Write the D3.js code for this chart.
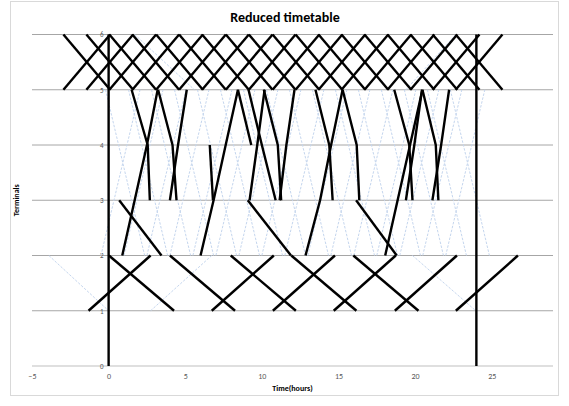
<!DOCTYPE html>
<html><head><meta charset="utf-8">
<script src="https://cdn.jsdelivr.net/npm/d3@7"></script>
<style>body{margin:0;background:#fff;font-family:Calibri,"Liberation Sans",Arial,sans-serif}</style>
</head><body><svg id="c" width="569" height="406"></svg>
<script>
// ---- data ----
const xTicks = [-5, 0, 5, 10, 15, 20, 25];
const yTicks = [0, 1, 2, 3, 4, 5, 6];
const dayBounds = [0, 24];
// Terminals 5 <-> 6 shuttle (black): departure times, same in both directions
const band56Dep = [-2.95, -1.45, 0.05, 1.55, 3.1, 4.6, 6.1, 7.65, 9.15, 10.7, 12.2, 13.7, 15.2, 16.7, 18.2, 19.7, 21.15, 22.65];
const band56Dur = 3.05;
// Terminals 1 <-> 2 (black)
const band12Down = [0.02, 4.0, 7.97, 11.92, 15.97];
const band12DownDur = 4.25;
const band12Up = [-1.31, 6.73, 10.72, 14.69, 18.68, 22.66];
const band12UpDur = 4.05;
// Trains between terminals 2..5 (black): times and terminals
const midTimes = [
  [1.5, 2.55, 2.69], [3.23, 4.17, 4.43], [0.89, 1.7, 2.5, 3.2], [4.0, 4.53, 5.1],
  [0.69, 3.45], [6.0, 6.85, 7.64, 8.44], [6.6, 6.81], [8.44, 9.31],
  [9.13, 10.0, 10.9], [9.2, 9.7, 10.18], [10.13, 11.04, 11.26], [11.16, 11.6, 12.13], [9.08, 11.9],
  [13.5, 14.4, 14.62], [12.85, 13.8, 14.52, 15.27], [15.27, 16.19, 16.36], [16.15, 18.8],
  [18.64, 19.62, 19.83], [18.05, 18.86, 19.67, 20.48], [19.4, 19.95, 20.45],
  [20.48, 21.35, 21.52], [21.13, 21.7, 22.22]
];
const midStops = [
  [5, 4, 3], [5, 4, 3], [2, 3, 4, 5], [3, 4, 5],
  [3, 2], [2, 3, 4, 5], [4, 3], [5, 4],
  [5, 4, 3], [3, 4, 5], [5, 4, 3], [3, 4, 5], [3, 2],
  [5, 4, 3], [2, 3, 4, 5], [5, 4, 3], [3, 2],
  [5, 4, 3], [2, 3, 4, 5], [3, 4, 5],
  [5, 4, 3], [3, 4, 5]
];
// Full timetable (light blue): down trains 5->2 and up trains 2->5, departure times
const fullDown = [-0.2, 1.3, 2.8, 4.3, 5.8, 7.3, 8.8, 10.3, 11.8, 13.3, 14.8, 16.3, 17.8, 19.3, 20.8, 22.3];
const fullUp = [-0.5, 1.0, 2.5, 4.0, 5.5, 7.0, 8.5, 10.0, 11.5, 13.0, 14.5, 16.0, 17.5, 19.0, 20.5, 22.0];
const fullLeg = 0.85;
const fullExtraTimes = [[-3.9, 0.0], [2.74, 6.73], [19.83, 23.96], [1.7, 5.6], [19.4, 22.66]];
const fullExtraStops = [[2, 1], [1, 2], [2, 1], [6, 5], [5, 6]];

// ---- chart ----
const svg = d3.select("#c");
svg.append("rect").attr("x", 10.5).attr("y", 1.5).attr("width", 548).attr("height", 394)
  .attr("fill", "#fff").attr("stroke", "#d9d9d9");
const x = d3.scaleLinear().domain([-5, 29]).range([32, 553]);
const y = d3.scaleLinear().domain([0, 6]).range([366, 34.5]);

svg.append("g").selectAll("line").data(yTicks).join("line")
  .attr("x1", x(-5)).attr("x2", x(29)).attr("y1", d => y(d)).attr("y2", d => y(d))
  .attr("stroke", d => d === 0 ? "#bfbfbf" : "#a6a6a6").attr("stroke-width", 1);

const fontFam = "Calibri,'Liberation Sans',Arial,sans-serif";
const xa = svg.append("g").attr("transform", `translate(0,${y(0)})`)
  .call(d3.axisBottom(x).tickValues(xTicks).tickFormat(d3.format("d")).tickSize(0).tickPadding(7));
xa.select(".domain").remove();
xa.selectAll("text").attr("fill", "#595959").style("font-size", "8px").style("font-family", fontFam);
const ya = svg.append("g").attr("transform", `translate(${x(0)},0)`)
  .call(d3.axisLeft(y).tickValues(yTicks).tickFormat(d3.format("d")).tickSize(0).tickPadding(5));
ya.select(".domain").remove();
ya.selectAll("text").attr("fill", "#595959").style("font-size", "7px").style("font-family", fontFam);

const line = d3.line().x(d => x(d[0])).y(d => y(d[1]));
const blue = svg.append("g").attr("fill", "none").attr("stroke", "#c5d6ee").attr("stroke-width", 1).attr("stroke-dasharray", "2.5,1.5");
const stopsDown = [5, 4, 3, 2], stopsUp = [2, 3, 4, 5];
fullDown.forEach(t0 => blue.append("path").attr("d", line(stopsDown.map((s, i) => [t0 + i * fullLeg, s]))));
fullUp.forEach(t0 => blue.append("path").attr("d", line(stopsUp.map((s, i) => [t0 + i * fullLeg, s]))));
fullExtraTimes.forEach((ts, k) => blue.append("path").attr("d", line(ts.map((t, i) => [t, fullExtraStops[k][i]]))));

const black = svg.append("g").attr("fill", "none").attr("stroke", "#000").attr("stroke-width", 2.4).attr("stroke-linejoin", "round");
band56Dep.forEach(t => {
  black.append("path").attr("d", line([[t, 5], [t + band56Dur, 6]]));
  black.append("path").attr("d", line([[t, 6], [t + band56Dur, 5]]));
});
band12Down.forEach(t => black.append("path").attr("d", line([[t, 2], [t + band12DownDur, 1]])));
band12Up.forEach(t => black.append("path").attr("d", line([[t, 1], [t + band12UpDur, 2]])));
midTimes.forEach((ts, k) => black.append("path").attr("d", line(ts.map((t, i) => [t, midStops[k][i]]))));
dayBounds.forEach(t => black.append("path").attr("d", line([[t, 0], [t, 6]])));

svg.append("text").attr("x", 285).attr("y", 22).attr("text-anchor", "middle")
  .style("font-size", "14px").style("font-weight", "bold").attr("fill", "#000").text("Reduced timetable");
svg.append("text").attr("x", x(12)).attr("y", 391).attr("text-anchor", "middle")
  .style("font-size", "8px").style("font-weight", "bold").attr("fill", "#000").text("Time(hours)");
svg.append("text").attr("transform", `translate(19,${y(3)}) rotate(-90)`).attr("text-anchor", "middle")
  .style("font-size", "8px").style("font-weight", "bold").attr("fill", "#000").text("Terminals");
</script></body></html>
